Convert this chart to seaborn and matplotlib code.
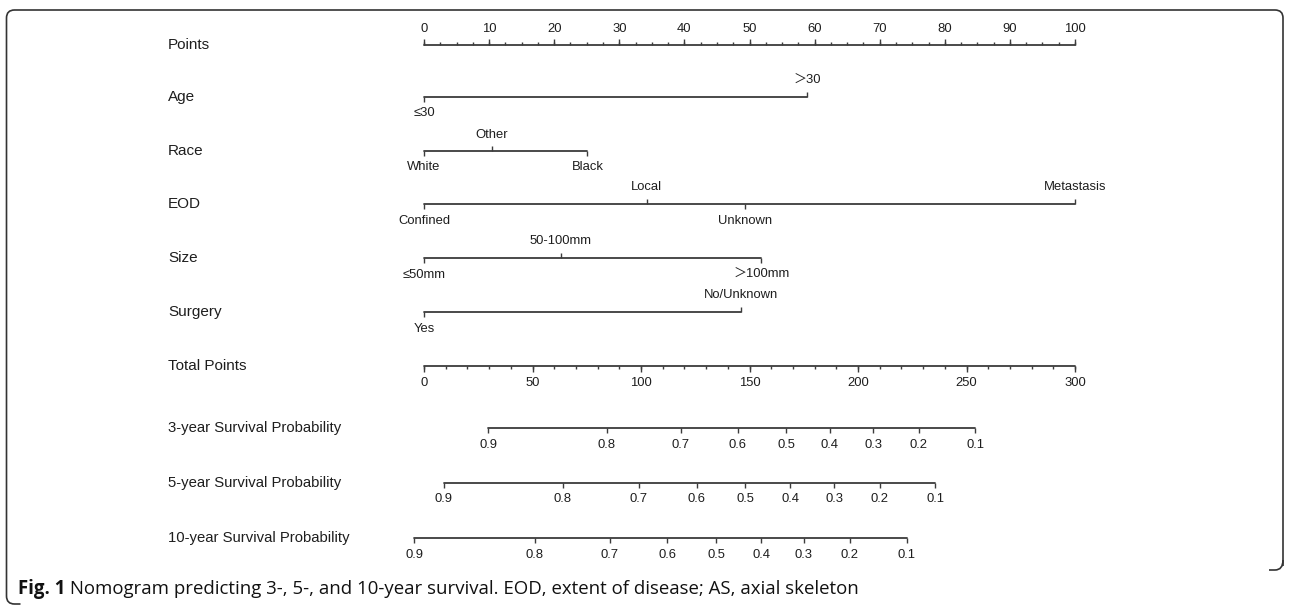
import matplotlib
matplotlib.use("Agg")
import matplotlib.pyplot as plt
import seaborn as sns
import pandas as pd
from matplotlib.path import Path
import matplotlib.patches as mpatches

# ---------------- data ----------------
points_major = [0, 10, 20, 30, 40, 50, 60, 70, 80, 90, 100]
points_minor = [i * 2.5 for i in range(41)]

age_levels = ["≤30", "＞30"]
age_points = [0, 58.8]

race_levels = ["White", "Other", "Black"]
race_points = [0, 10.4, 25.1]

eod_levels = ["Confined", "Local", "Unknown", "Metastasis"]
eod_points = [0, 34.2, 49.3, 100]

size_levels = ["≤50mm", "50-100mm", "＞100mm"]
size_points = [0, 21.0, 51.8]

surgery_levels = ["Yes", "No/Unknown"]
surgery_points = [0, 48.7]

total_major = [0, 50, 100, 150, 200, 250, 300]
total_minor = list(range(0, 301, 10))

surv_probs = [0.9, 0.8, 0.7, 0.6, 0.5, 0.4, 0.3, 0.2, 0.1]
surv3_total = [29.5, 84.3, 118.4, 144.7, 167.0, 187.0, 207.0, 228.0, 254.0]
surv5_total = [9.2, 64.0, 99.0, 125.8, 148.0, 168.7, 189.0, 210.0, 235.5]
surv10_total = [-4.4, 51.0, 85.7, 112.0, 134.6, 155.3, 175.0, 196.3, 222.5]

variable_names = ["Age", "Race", "EOD", "Size", "Surgery"]
survival_names = ["3-year Survival Probability", "5-year Survival Probability",
                  "10-year Survival Probability"]

caption_bold = "Fig. 1"
caption_rest = ("Nomogram predicting 3-, 5-, and 10-year survival. "
                "EOD, extent of disease; AS, axial skeleton")

# ---------------- style / layout ----------------
sns.set_theme(style="white")
plt.rcParams["font.family"] = ["Liberation Sans", "Noto Sans CJK SC", "DejaVu Sans"]

W, H = 1289, 605
LINE = "#3c3c3c"
TXT = "#1e1e1e"
X0_PX, PX_PER_PT = 424.0, 6.51
NAME_X = 168
LABEL_OFF = 16.5
TICK_FS = 9.4
TOTAL_TO_POINTS = 100.0 / 300.0

row_y = {"Points": 45, "Age": 97, "Race": 151, "EOD": 204, "Size": 258,
         "Surgery": 312, "Total Points": 366,
         survival_names[0]: 428, survival_names[1]: 483, survival_names[2]: 538}

fig = plt.figure(figsize=(W / 100, H / 100), dpi=100)
ax = fig.add_axes([0, 0, 1, 1])

# horizontal axis lines through seaborn
segments = []
def add_segment(name, xs):
    segments.append({"row": name, "x": min(xs), "y": row_y[name]})
    segments.append({"row": name, "x": max(xs), "y": row_y[name]})

add_segment("Points", points_major)
for nm, pts in zip(variable_names, [age_points, race_points, eod_points, size_points, surgery_points]):
    add_segment(nm, pts)
add_segment("Total Points", [v * TOTAL_TO_POINTS for v in total_major])
for nm, tot in zip(survival_names, [surv3_total, surv5_total, surv10_total]):
    add_segment(nm, [v * TOTAL_TO_POINTS for v in tot])

seg = pd.DataFrame(segments)
sns.lineplot(data=seg, x="x", y="y", units="row", estimator=None, sort=False,
             color=LINE, linewidth=1.3, legend=False, ax=ax)
ax.set_xlim(-X0_PX / PX_PER_PT, (W - X0_PX) / PX_PER_PT)
ax.set_ylim(H, 0)
ax.axis("off")

nx = ax.transData.inverted().transform((NAME_X, 0))[0]

def row_name(name, size=11):
    ax.text(nx, row_y[name], name, ha="left", va="center", fontsize=size, color=TXT)

# Points scale (labels above, ticks up)
y = row_y["Points"]
ax.vlines(points_minor, y - 3, y, color=LINE, lw=1.0)
ax.vlines(points_major, y - 6, y, color=LINE, lw=1.0)
for v in points_major:
    ax.text(v, y - LABEL_OFF, f"{v}", ha="center", va="center", fontsize=TICK_FS, color=TXT)
row_name("Points")

# variable scales: labels alternate below/above by position; ticks point to labels
for nm, levels, pts in zip(variable_names,
                           [age_levels, race_levels, eod_levels, size_levels, surgery_levels],
                           [age_points, race_points, eod_points, size_points, surgery_points]):
    y = row_y[nm]
    order = sorted(range(len(pts)), key=lambda i: pts[i])
    for rank, i in enumerate(order):
        side = 1 if rank % 2 == 0 else -1  # 1 = below
        ax.vlines(pts[i], y, y + side * 5, color=LINE, lw=1.0)
        ax.text(pts[i], y + side * LABEL_OFF, levels[i], ha="center", va="center",
                fontsize=TICK_FS, color=TXT)
    row_name(nm)

# Total points (labels below, ticks down)
y = row_y["Total Points"]
ax.vlines([v * TOTAL_TO_POINTS for v in total_minor], y, y + 3, color=LINE, lw=1.0)
ax.vlines([v * TOTAL_TO_POINTS for v in total_major], y, y + 6, color=LINE, lw=1.0)
for v in total_major:
    ax.text(v * TOTAL_TO_POINTS, y + LABEL_OFF, f"{v}", ha="center", va="center",
            fontsize=TICK_FS, color=TXT)
row_name("Total Points")

# survival scales
for nm, tot in zip(survival_names, [surv3_total, surv5_total, surv10_total]):
    y = row_y[nm]
    xs = [v * TOTAL_TO_POINTS for v in tot]
    ax.vlines(xs, y, y + 5, color=LINE, lw=1.0)
    for xv, p in zip(xs, surv_probs):
        ax.text(xv, y + LABEL_OFF, f"{p:.1f}", ha="center", va="center",
                fontsize=TICK_FS, color=TXT)
    row_name(nm, size=10.7)

# ---------------- caption ----------------
cy = 1 - 589 / H
t1 = fig.text(18 / W, cy, caption_bold, ha="left", va="center", fontsize=11,
              fontweight="bold", family=["Open Sans", "DejaVu Sans"], color="#111111")
t2 = ax.annotate(" " + caption_rest, xy=(1, 0.5), xycoords=t1, va="center", ha="left",
                 fontsize=11, family=["Open Sans", "DejaVu Sans"], color="#111111",
                 annotation_clip=False)
fig.canvas.draw()
r = fig.canvas.get_renderer()
right = t2.get_window_extent(r).x1
target = 862
scale = (target - 18) / (right - 18)
t1.set_fontsize(11 * scale)
t2.set_fontsize(11 * scale)

# ---------------- rounded frame ----------------
fr = fig.add_axes([0, 0, 1, 1], facecolor="none")
fr.set_xlim(0, W)
fr.set_ylim(H, 0)
fr.axis("off")
R = 8
L, T, RT = 6.5, 10, 1283
verts = [(RT, 566), (RT, T + R), (RT, T), (RT - R, T), (L + R, T), (L, T), (L, T + R),
         (L, 596), (L, 604), (L + R, 604), (L + 14, 604)]
codes = [Path.MOVETO, Path.LINETO, Path.CURVE3, Path.CURVE3, Path.LINETO, Path.CURVE3,
         Path.CURVE3, Path.LINETO, Path.CURVE3, Path.CURVE3, Path.LINETO]
fr.add_patch(mpatches.PathPatch(Path(verts, codes), fill=False, edgecolor="#333333", lw=1.2))
verts2 = [(RT, 560), (RT, 570), (RT - R, 570), (RT - 14, 570)]
codes2 = [Path.MOVETO, Path.CURVE3, Path.CURVE3, Path.LINETO]
fr.add_patch(mpatches.PathPatch(Path(verts2, codes2), fill=False, edgecolor="#333333", lw=1.2))

fig.savefig("out.png", dpi=100)
